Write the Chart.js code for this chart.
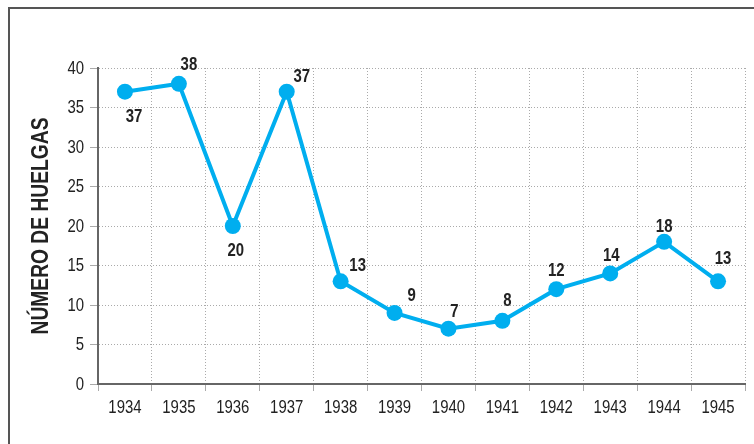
<!DOCTYPE html>
<html>
<head>
<meta charset="utf-8">
<script src="https://cdn.jsdelivr.net/npm/chart.js@4/dist/chart.umd.min.js"></script>
<style>
  html, body { margin: 0; padding: 0; background: #fff; }
  #wrap { position: relative; width: 754px; height: 444px; overflow: hidden; }
  #frame { position: absolute; left: 8px; top: 7px; width: 800px; height: 500px; border: 2px solid #555; box-sizing: border-box; }
  canvas { position: absolute; left: 0; top: 0; }
</style>
</head>
<body>
<div id="wrap">
  <div id="frame"></div>
  <canvas id="chart" width="754" height="444"></canvas>
</div>
<script>
const years = ['1934','1935','1936','1937','1938','1939','1940','1941','1942','1943','1944','1945'];
const strikes = [37, 38, 20, 37, 13, 9, 7, 8, 12, 14, 18, 13];
const yTicks = [0, 5, 10, 15, 20, 25, 30, 35, 40];
const yTitle = 'NÚMERO DE HUELGAS';

const FONT = '"Liberation Sans", Arial, sans-serif';
const BLUE = '#00aeef';
const NARROW = 0.83; // squeeze text to look like a condensed face

// where each value label sits relative to its point
const labelShift = [[9,25],[10,-19],[3,25],[15,-15],[17,-15],[17,-17],[6,-17],[5,-20],[0,-18],[1,-17],[0,-15],[5,-22]];

function narrowText(ctx, text, x, y, sx) {
  ctx.save();
  ctx.translate(x, y);
  ctx.scale(sx, 1);
  ctx.fillText(text, 0, 0);
  ctx.restore();
}

const textPlugin = {
  id: 'texts',
  afterDraw(chart) {
    const ctx = chart.ctx;
    const xs = chart.scales.x, ys = chart.scales.y;
    const a = chart.chartArea;
    ctx.save();
    ctx.fillStyle = '#222';
    ctx.textBaseline = 'middle';

    // tick labels
    ctx.font = '18px ' + FONT;
    ctx.textAlign = 'center';
    xs.ticks.forEach((t, i) => {
      narrowText(ctx, xs.getLabelForValue(t.value), xs.getPixelForTick(i), 408, NARROW);
    });
    ctx.textAlign = 'right';
    ys.ticks.forEach((t, i) => {
      narrowText(ctx, String(t.value), 84, ys.getPixelForTick(i) + 1, NARROW);
    });

    // value labels
    ctx.font = 'bold 18px ' + FONT;
    ctx.textAlign = 'center';
    chart.getDatasetMeta(0).data.forEach((pt, i) => {
      narrowText(ctx, String(strikes[i]), pt.x + labelShift[i][0], pt.y + labelShift[i][1], NARROW);
    });

    // y axis title
    ctx.font = 'bold 23px ' + FONT;
    const w = ctx.measureText(yTitle).width;
    ctx.translate(42, 226);
    ctx.rotate(-Math.PI / 2);
    narrowText(ctx, yTitle, 0, 0, 217 / w);
    ctx.restore();
  }
};

new Chart(document.getElementById('chart'), {
  type: 'line',
  data: {
    labels: years,
    datasets: [{
      data: strikes,
      borderColor: BLUE,
      backgroundColor: BLUE,
      borderWidth: 4,
      pointRadius: 8,
      pointHoverRadius: 8,
      pointBorderWidth: 0,
      tension: 0
    }]
  },
  options: {
    responsive: false,
    animation: false,
    layout: { padding: { left: 0, top: 68, right: 9, bottom: 0 } },
    plugins: { legend: { display: false }, tooltip: { enabled: false } },
    scales: {
      x: {
        offset: true,
        grid: { offset: true, color: '#aaa', lineWidth: 1, tickLength: 7, tickColor: '#aaa' },
        border: { color: '#666', width: 2, dash: [1, 2] },
        ticks: { display: false },
        afterFit(s) { s.height = 60; }
      },
      y: {
        min: 0, max: 40,
        afterBuildTicks(s) { s.ticks = yTicks.map(v => ({ value: v })); },
        grid: { color: '#aaa', lineWidth: 1, tickLength: 8, tickColor: '#aaa' },
        border: { color: '#666', width: 2, dash: [1, 2] },
        ticks: { display: false },
        afterFit(s) { s.width = 98; }
      }
    }
  },
  plugins: [textPlugin]
});
</script>
</body>
</html>
